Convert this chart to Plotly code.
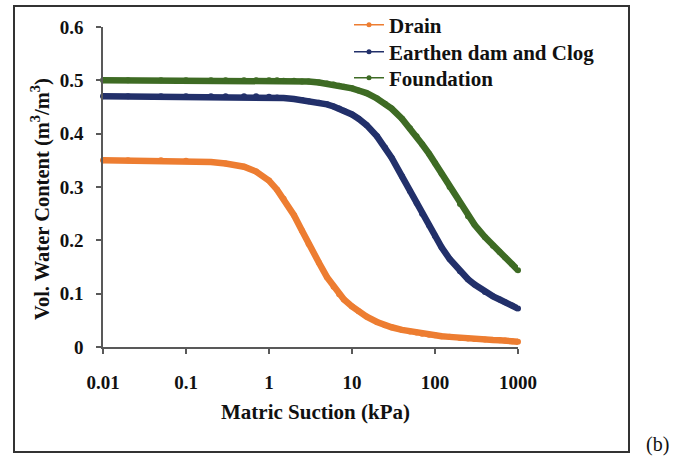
import plotly.graph_objects as go

# Matric suction (kPa)
suction = [0.01, 0.02, 0.05, 0.1, 0.2, 0.3, 0.5, 0.7, 1, 1.25, 1.5, 2, 2.5, 3, 4, 5,
           6, 7, 8, 10, 12, 15, 20, 25, 30, 40, 50, 60, 70, 85, 100, 120, 150, 200,
           250, 300, 400, 500, 600, 700, 850, 1000]

# Volumetric water content (m3/m3)
drain = [0.350, 0.350, 0.350, 0.349, 0.347, 0.344, 0.338, 0.329, 0.312, 0.295,
         0.278, 0.247, 0.218, 0.193, 0.158, 0.131, 0.113, 0.099, 0.089, 0.076,
         0.067, 0.057, 0.047, 0.041, 0.037, 0.032, 0.029, 0.027, 0.025, 0.023,
         0.022, 0.020, 0.019, 0.017, 0.016, 0.015, 0.014, 0.013, 0.0125, 0.012,
         0.011, 0.010]
earthen = [0.470, 0.470, 0.470, 0.470, 0.470, 0.470, 0.470, 0.470, 0.469, 0.468,
           0.467, 0.465, 0.463, 0.461, 0.458, 0.455, 0.451, 0.447, 0.443, 0.436,
           0.428, 0.416, 0.395, 0.374, 0.355, 0.320, 0.292, 0.270, 0.250, 0.228,
           0.208, 0.187, 0.165, 0.142, 0.127, 0.117, 0.103, 0.095, 0.089, 0.084,
           0.078, 0.072]
foundation = [0.500, 0.500, 0.500, 0.500, 0.500, 0.500, 0.500, 0.500, 0.500, 0.500,
              0.499, 0.499, 0.498, 0.498, 0.496, 0.494, 0.492, 0.490, 0.488, 0.485,
              0.481, 0.476, 0.466, 0.456, 0.447, 0.428, 0.410, 0.395, 0.380, 0.362,
              0.345, 0.325, 0.300, 0.268, 0.245, 0.229, 0.206, 0.190, 0.178, 0.168,
              0.155, 0.144]

series_names = ["Drain", "Earthen dam and Clog", "Foundation"]
series_vals = [drain, earthen, foundation]
colors = ["#ED7D31", "#22306A", "#3E6B24"]

x_ticks = [0.01, 0.1, 1, 10, 100, 1000]
x_ticklabels = ["0.01", "0.1", "1", "10", "100", "1000"]
y_ticks = [0, 0.1, 0.2, 0.3, 0.4, 0.5, 0.6]
y_ticklabels = ["0", "0.1", "0.2", "0.3", "0.4", "0.5", "0.6"]

FONT = "Liberation Serif"
TXT = "#111111"

L, R, T, B = 103, 518, 27, 347
W, H = 680, 459
pw, ph = R - L, B - T

def px(xp):
    return (xp - L) / pw

def py(yp):
    return (B - yp) / ph

fig = go.Figure()
for name, vals, col in zip(series_names, series_vals, colors):
    fig.add_trace(go.Scatter(
        x=suction, y=vals, mode="lines+markers", name=name, showlegend=False,
        line=dict(color=col, width=6.5),
        marker=dict(color=col, size=6), cliponaxis=False))

legend_ids = ["legend", "legend2", "legend3"]
legend_rows = [25, 52, 78]
for name, col, lid in zip(series_names, colors, legend_ids):
    fig.add_trace(go.Scatter(
        x=[None], y=[None], mode="lines+markers", name=name, legend=lid,
        line=dict(color=col, width=1.5), marker=dict(color=col, size=5)))

axis_common = dict(showline=True, linecolor="#595959", linewidth=1.5,
                   ticks="outside", ticklen=5, tickwidth=1.5, tickcolor="#595959",
                   showgrid=False, zeroline=False, automargin=False,
                   tickfont=dict(family=FONT, size=19, color=TXT, weight="bold"))

fig.update_xaxes(type="log", range=[-2, 3], tickvals=x_ticks, ticktext=x_ticklabels,
                 ticklabelstandoff=12, **axis_common)
fig.update_yaxes(range=[0, 0.6], tickvals=y_ticks, ticktext=y_ticklabels,
                 ticklabelstandoff=9, **axis_common)

legend_layout = {}
for lid, row in zip(legend_ids, legend_rows):
    legend_layout[lid] = dict(x=px(349), y=py(row), xanchor="left", yanchor="middle",
                              bgcolor="rgba(0,0,0,0)", itemwidth=30,
                              font=dict(family=FONT, size=21, color=TXT, weight="bold"))

fig.update_layout(
    width=W, height=H,
    margin=dict(l=L, r=W - R, t=T, b=H - B, pad=0, autoexpand=False),
    paper_bgcolor="white", plot_bgcolor="white",
    font=dict(family=FONT, color=TXT),
    shapes=[dict(type="rect", xref="paper", yref="paper",
                 x0=px(14), x1=px(629), y0=py(452), y1=py(6),
                 line=dict(color="#333333", width=2), fillcolor="rgba(0,0,0,0)")],
    annotations=[
        dict(text="<b>Matric Suction (kPa)</b>", xref="paper", yref="paper",
             x=px(315), y=py(412), xanchor="center", yanchor="middle",
             showarrow=False, font=dict(family=FONT, size=21, color=TXT)),
        dict(text="<b>Vol. Water Content (m<sup>3</sup>/m<sup>3</sup>)</b>",
             xref="paper", yref="paper", x=px(40), y=py(199), textangle=-90,
             xanchor="center", yanchor="middle", showarrow=False,
             font=dict(family=FONT, size=20.5, color=TXT)),
        dict(text="(b)", xref="paper", yref="paper", x=px(657), y=py(444),
             xanchor="center", yanchor="middle", showarrow=False,
             font=dict(family=FONT, size=20, color=TXT)),
    ],
    **legend_layout,
)

fig.write_html("out.html", config={"displayModeBar": False},
               post_script="document.body.style.margin='0';document.body.style.padding='0';")
